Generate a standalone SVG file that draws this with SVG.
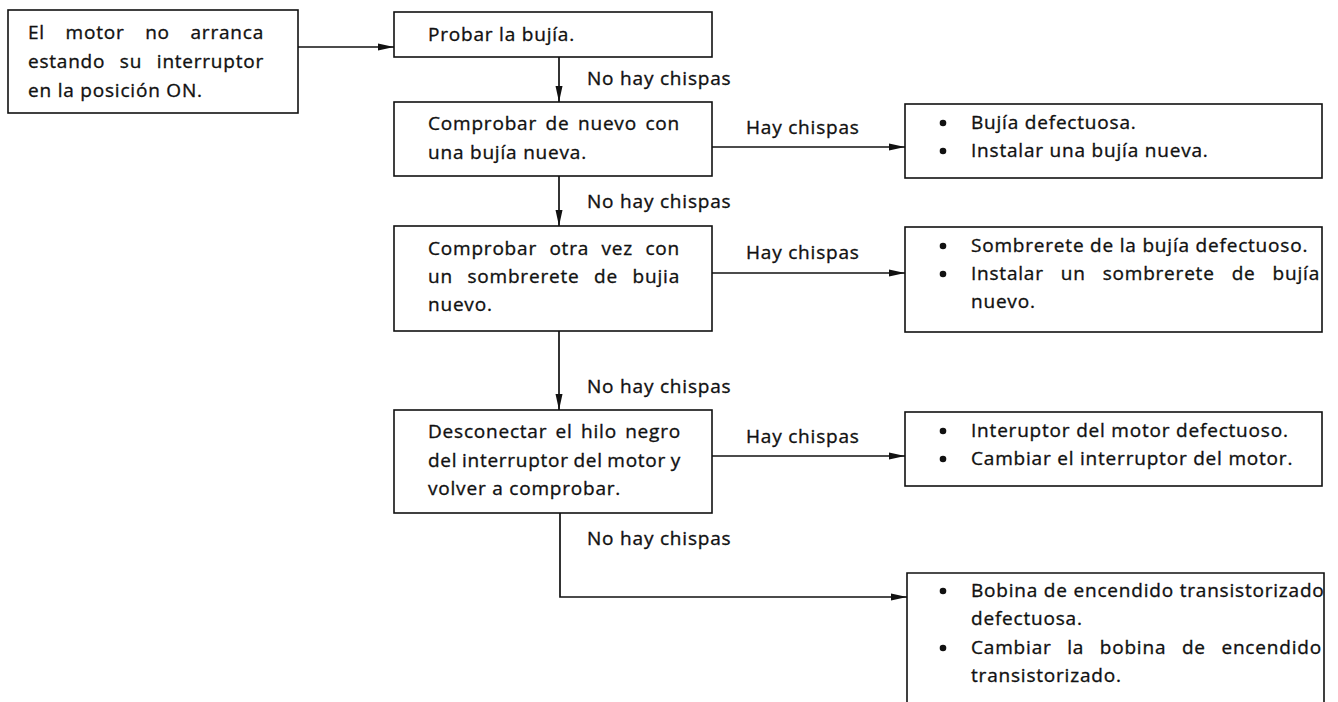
<svg xmlns="http://www.w3.org/2000/svg" width="1338" height="702" viewBox="0 0 1338 702">
<style>
  .box { fill: #ffffff; stroke: #111111; stroke-width: 1.6; }
  .t { font-family: "Open Sans", "DejaVu Sans", sans-serif; font-size: 19px; letter-spacing: 0.8px; fill: #111111; stroke: #111111; stroke-width: 0.35px; }
  .conn { fill: none; stroke: #111111; stroke-width: 1.7; }
  .dot { fill: #111111; }
</style>
<defs>
  <marker id="arr" viewBox="0 0 16 9" refX="16" refY="4.5" markerWidth="16" markerHeight="9" markerUnits="userSpaceOnUse" orient="auto">
    <path d="M0,1 L16,4.5 L0,8 Z" fill="#111111"/>
  </marker>
</defs>
<rect width="1338" height="702" fill="#ffffff"/>

<g id="connectors">
  <path class="conn" d="M298,47 H394" marker-end="url(#arr)"/>
  <path class="conn" d="M559,57 V102" marker-end="url(#arr)"/>
  <path class="conn" d="M712,147 H905" marker-end="url(#arr)"/>
  <path class="conn" d="M559,176 V226" marker-end="url(#arr)"/>
  <path class="conn" d="M712,273 H905" marker-end="url(#arr)"/>
  <path class="conn" d="M559,331 V410" marker-end="url(#arr)"/>
  <path class="conn" d="M712,456 H905" marker-end="url(#arr)"/>
  <path class="conn" d="M560,513 V597 H907" marker-end="url(#arr)"/>
  <text class="t" x="587" y="85">No hay chispas</text>
  <text class="t" x="587" y="208">No hay chispas</text>
  <text class="t" x="587" y="393">No hay chispas</text>
  <text class="t" x="587" y="545">No hay chispas</text>
  <text class="t" x="746" y="134">Hay chispas</text>
  <text class="t" x="746" y="259">Hay chispas</text>
  <text class="t" x="746" y="443">Hay chispas</text>
</g>

<g id="n1">
  <rect class="box" x="8" y="10" width="290" height="103"/>
  <text class="t" x="28" y="39" word-spacing="14.9" textLength="236" lengthAdjust="spacing">El motor no arranca</text>
  <text class="t" x="28" y="68" word-spacing="9" textLength="236" lengthAdjust="spacing">estando su interruptor</text>
  <text class="t" x="28" y="97">en la posición ON.</text>
</g>

<g id="n2">
  <rect class="box" x="394" y="12" width="318" height="45"/>
  <text class="t" x="428" y="41">Probar la bujía.</text>
</g>

<g id="n3">
  <rect class="box" x="394" y="102" width="318" height="74"/>
  <text class="t" x="428" y="130" word-spacing="2.8" textLength="252" lengthAdjust="spacing">Comprobar de nuevo con</text>
  <text class="t" x="428" y="159">una bujía nueva.</text>
</g>

<g id="n4">
  <rect class="box" x="905" y="104" width="417" height="74"/>
  <circle class="dot" cx="943" cy="123" r="3.3"/>
  <text class="t" x="971" y="129">Bujía defectuosa.</text>
  <circle class="dot" cx="943" cy="151" r="3.3"/>
  <text class="t" x="971" y="157">Instalar una bujía nueva.</text>
</g>

<g id="n5">
  <rect class="box" x="394" y="226" width="318" height="105"/>
  <text class="t" x="428" y="255" word-spacing="6.7" textLength="252" lengthAdjust="spacing">Comprobar otra vez con</text>
  <text class="t" x="428" y="283" word-spacing="8.9" textLength="252" lengthAdjust="spacing">un sombrerete de bujia</text>
  <text class="t" x="428" y="311">nuevo.</text>
</g>

<g id="n6">
  <rect class="box" x="905" y="227" width="417" height="105"/>
  <circle class="dot" cx="943" cy="246" r="3.3"/>
  <text class="t" x="971" y="252">Sombrerete de la bujía defectuoso.</text>
  <circle class="dot" cx="943" cy="274" r="3.3"/>
  <text class="t" x="971" y="280" word-spacing="11.3" textLength="349" lengthAdjust="spacing">Instalar un sombrerete de bujía</text>
  <text class="t" x="971" y="308">nuevo.</text>
</g>

<g id="n7">
  <rect class="box" x="394" y="410" width="318" height="103"/>
  <text class="t" x="428" y="438" word-spacing="2.6" textLength="253" lengthAdjust="spacing">Desconectar el hilo negro</text>
  <text class="t" x="428" y="467" word-spacing="-1" textLength="253" lengthAdjust="spacing">del interruptor del motor y</text>
  <text class="t" x="428" y="495">volver a comprobar.</text>
</g>

<g id="n8">
  <rect class="box" x="905" y="412" width="417" height="74"/>
  <circle class="dot" cx="943" cy="431" r="3.3"/>
  <text class="t" x="971" y="437">Interuptor del motor defectuoso.</text>
  <circle class="dot" cx="943" cy="459" r="3.3"/>
  <text class="t" x="971" y="465">Cambiar el interruptor del motor.</text>
</g>

<g id="n9">
  <path class="box" d="M907,702 V573 H1324 V702"/>
  <circle class="dot" cx="943" cy="591" r="3.3"/>
  <text class="t" x="971" y="597">Bobina de encendido transistorizado</text>
  <text class="t" x="971" y="625">defectuosa.</text>
  <circle class="dot" cx="943" cy="648" r="3.3"/>
  <text class="t" x="971" y="654" word-spacing="9.8" textLength="351" lengthAdjust="spacing">Cambiar la bobina de encendido</text>
  <text class="t" x="971" y="682">transistorizado.</text>
</g>
</svg>
